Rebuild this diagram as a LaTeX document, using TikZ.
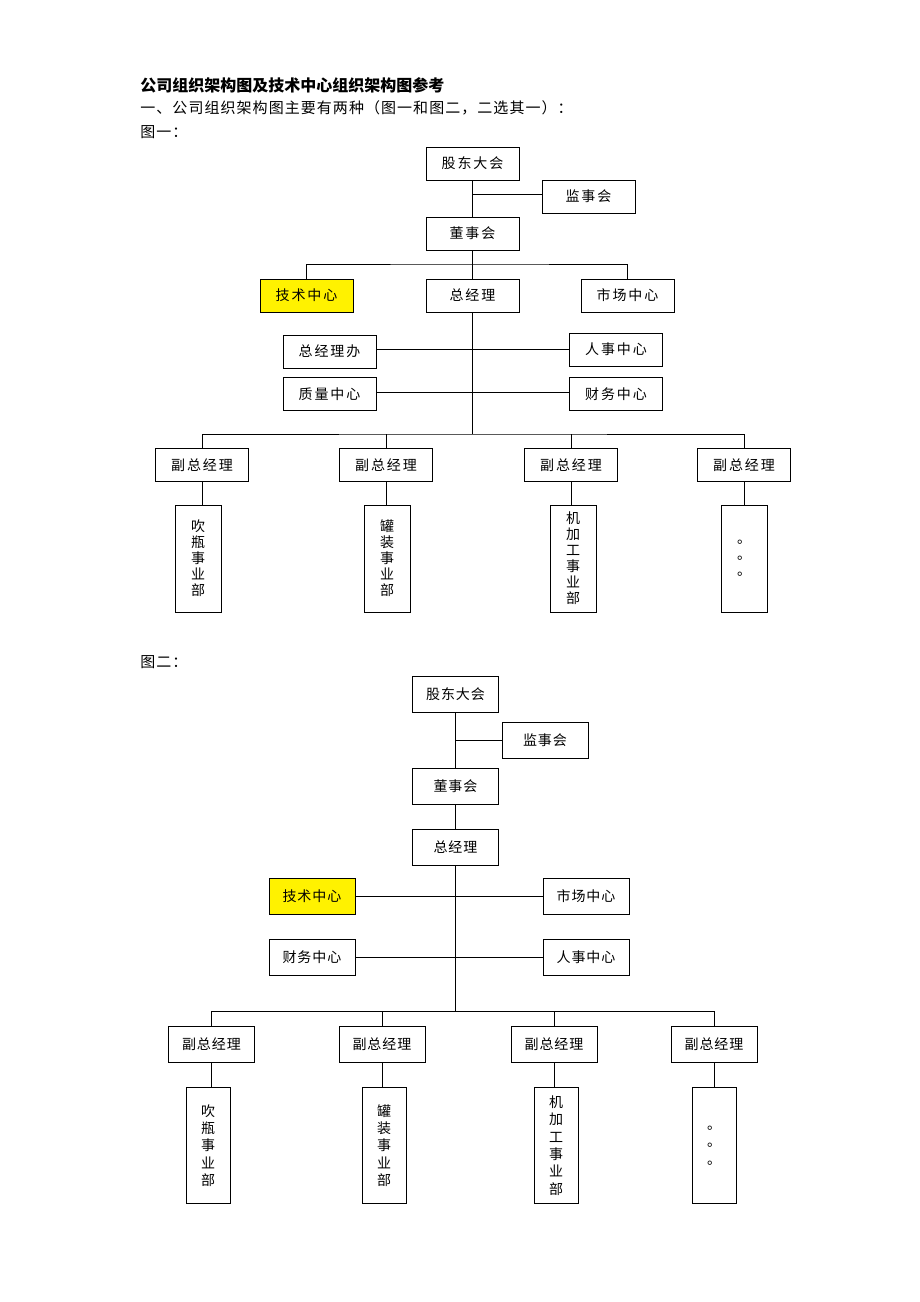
\documentclass[tikz,border=0pt]{standalone}
\usepackage{fontspec}
\usepackage{tikz}
\newfontfamily\cjk{Noto Sans CJK SC}
\newfontfamily\cjkwide[LetterSpace=14]{Noto Sans CJK SC}
\newfontfamily\cjkmid[LetterSpace=7]{Noto Sans CJK SC}

\begin{document}
\begin{tikzpicture}[x=1pt,y=-1pt,line width=0.8pt]

  \tikzstyle{caption}=[anchor=west,inner sep=0pt,font=\cjkmid\fontsize{15}{16}\selectfont]
  \tikzstyle{unitA}=[rectangle,draw,inner sep=0pt,minimum width=93pt,minimum height=33pt,
                     font=\cjkwide\fontsize{14}{16}\selectfont]
  \tikzstyle{unitB}=[rectangle,draw,inner sep=0pt,minimum width=86pt,minimum height=36pt,
                     font=\cjkmid\fontsize{14}{16}\selectfont]
  \tikzstyle{deptA}=[rectangle,draw,inner sep=0pt,align=center,minimum width=46pt,
                     minimum height=107pt,font=\cjk\fontsize{14}{16}\selectfont]
  \tikzstyle{deptB}=[rectangle,draw,inner sep=0pt,align=center,minimum width=44pt,
                     minimum height=116pt,font=\cjk\fontsize{14}{17.3}\selectfont]
  \tikzstyle{hilite}=[fill=yellow]

  \useasboundingbox (0,0) rectangle (920,1302);

  % headings
  \node[anchor=west,inner sep=0pt,font=\cjk\bfseries\fontsize{16}{16}\selectfont] (TTL) at (140,85)
       {公司组织架构图及技术中心组织架构图参考};
  \node[caption] (SUB) at (140,108) {一、公司组织架构图主要有两种（图一和图二，二选其一）：};
  \node[caption] (CAP1) at (140,132) {图一：};
  \node[caption] (CAP2) at (140,662) {图二：};

  % figure one
  \node[unitA]        (GD1)   at (472.5,163.5) {股东大会};
  \node[unitA]        (JS1)   at (588.5,196.5) {监事会};
  \node[unitA]        (DS1)   at (472.5,233.5) {董事会};
  \node[unitA,hilite] (JSZX1) at (306.5,295.5) {技术中心};
  \node[unitA]        (ZJL1)  at (472.5,295.5) {总经理};
  \node[unitA]        (SCZX1) at (627.5,295.5) {市场中心};
  \node[unitA]        (ZJB1)  at (329.5,351.5) {总经理办};
  \node[unitA]        (RS1)   at (616,349.5)   {人事中心};
  \node[unitA]        (ZL1)   at (329.5,394)   {质量中心};
  \node[unitA]        (CW1)   at (616,394)     {财务中心};

  \node[unitA] (FZ1a) at (202,465) {副总经理};
  \node[unitA] (FZ1b) at (386,465) {副总经理};
  \node[unitA] (FZ1c) at (571,465) {副总经理};
  \node[unitA] (FZ1d) at (744,465) {副总经理};

  \node[deptA] (BU1a) at (198,558.5) {吹\\瓶\\事\\业\\部};
  \node[deptA] (BU1b) at (387,558.5) {罐\\装\\事\\业\\部};
  \node[deptA] (BU1c) at (573,558.5) {机\\加\\工\\事\\业\\部};
  \node[deptA] (BU1d) at (744,558.5) {。\\。\\。};

  \coordinate (bus1) at (472.5,264);
  \coordinate (bus2) at (472.5,434);

  \draw (GD1) -- (DS1);
  \draw (JS1.west |- 0,194) -- (GD1.south |- 0,194);
  \draw (DS1) -- (ZJL1);
  \draw (JSZX1.north) |- (bus1) -| (SCZX1.north);
  \draw (ZJL1.south) -- (bus2);
  \draw (ZJB1.east |- RS1) -- (RS1.west);
  \draw (ZL1.east |- 0,392) -- (CW1.west |- 0,392);
  \draw (FZ1a.north) |- (bus2) -| (FZ1d.north);
  \draw (FZ1b.north) -- (FZ1b.north |- bus2);
  \draw (FZ1c.north) -- (FZ1c.north |- bus2);
  \foreach \k in {a,b,c,d}
    \draw (FZ1\k.south) -- (FZ1\k.south |- BU1\k.north);

  % figure two
  \node[unitB]        (GD2)   at (455.5,694) {股东大会};
  \node[unitB]        (JS2)   at (545,740)   {监事会};
  \node[unitB]        (DS2)   at (455.5,786) {董事会};
  \node[unitB]        (ZJL2)  at (455.5,847) {总经理};
  \node[unitB,hilite] (JSZX2) at (312,896)   {技术中心};
  \node[unitB]        (SCZX2) at (586,896)   {市场中心};
  \node[unitB]        (CW2)   at (312,957)   {财务中心};
  \node[unitB]        (RS2)   at (586,957)   {人事中心};

  \node[unitB] (FZ2a) at (211.5,1044) {副总经理};
  \node[unitB] (FZ2b) at (382,1044)   {副总经理};
  \node[unitB] (FZ2c) at (554,1044)   {副总经理};
  \node[unitB] (FZ2d) at (714,1044)   {副总经理};

  \node[deptB] (BU2a) at (208,1145.5) {吹\\瓶\\事\\业\\部};
  \node[deptB] (BU2b) at (384,1145.5) {罐\\装\\事\\业\\部};
  \node[deptB] (BU2c) at (556,1145.5) {机\\加\\工\\事\\业\\部};
  \node[deptB] (BU2d) at (714,1145.5) {。\\。\\。};

  \coordinate (bus3) at (455.5,1011);

  \draw (GD2) -- (DS2);
  \draw (JS2.west) -- (JS2.west -| GD2);
  \draw (DS2) -- (ZJL2);
  \draw (ZJL2.south) -- (bus3);
  \draw (JSZX2) -- (SCZX2);
  \draw (CW2) -- (RS2);
  \draw (FZ2a.north) |- (bus3) -| (FZ2d.north);
  \draw (FZ2b.north) -- (FZ2b.north |- bus3);
  \draw (FZ2c.north) -- (FZ2c.north |- bus3);
  \foreach \k in {a,b,c,d}
    \draw (FZ2\k.south) -- (FZ2\k.south |- BU2\k.north);

\end{tikzpicture}
\end{document}
